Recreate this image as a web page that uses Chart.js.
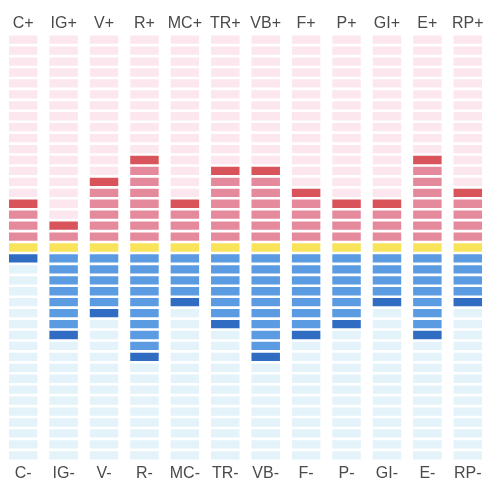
<!DOCTYPE html>
<html>
<head>
<meta charset="utf-8">
<script src="https://cdn.jsdelivr.net/npm/chart.js@4.4.0/dist/chart.umd.min.js"></script>
<style>
  html, body { margin: 0; padding: 0; background: #ffffff; overflow: hidden; }
  #wrap { position: relative; width: 490px; height: 496px; }
</style>
</head>
<body>
<div id="wrap"><canvas id="c"></canvas></div>
<script>
const topLabels = ['C+','IG+','V+','R+','MC+','TR+','VB+','F+','P+','GI+','E+','RP+'];
const bottomLabels = ['C-','IG-','V-','R-','MC-','TR-','VB-','F-','P-','GI-','E-','RP-'];
const plusValues = [4, 2, 6, 8, 4, 7, 7, 5, 4, 4, 8, 5];
const minusValues = [1, 8, 6, 10, 5, 7, 10, 8, 7, 5, 8, 5];
const levels = 19;

const COLORS = {
  pinkBg: '#fde7ee', pink: '#e58a9d', red: '#d9545a',
  yellow: '#f8e35a',
  blueBg: '#e3f3f9', blue: '#5b9be1', darkBlue: '#2f6cc2'
};
const half = 0.38;

function colorFor(k, i) {
  if (k === 0) return COLORS.yellow;
  if (k > 0) {
    const v = plusValues[i];
    if (k < v) return COLORS.pink;
    if (k === v) return COLORS.red;
    return COLORS.pinkBg;
  }
  const m = -k, v = minusValues[i];
  if (m < v) return COLORS.blue;
  if (m === v) return COLORS.darkBlue;
  return COLORS.blueBg;
}

const datasets = [];
for (let k = levels; k >= -levels; k--) {
  datasets.push({
    label: 'L' + k,
    data: bottomLabels.map(() => [k - half, k + half]),
    backgroundColor: bottomLabels.map((_, i) => colorFor(k, i)),
    borderWidth: 0,
    grouped: false,
    barPercentage: 0.705,
    categoryPercentage: 1.0,
    xAxisID: 'x'
  });
}

const font = { family: '"Liberation Sans", Arial, sans-serif', size: 16 };

new Chart(document.getElementById('c'), {
  type: 'bar',
  data: { labels: bottomLabels, datasets },
  options: {
    responsive: true,
    maintainAspectRatio: false,
    animation: false,
    layout: { padding: { top: 13, bottom: 10, left: 3, right: 2 } },
    plugins: { legend: { display: false }, tooltip: { enabled: false } },
    scales: {
      x: {
        type: 'category',
        position: 'bottom',
        grid: { display: false, drawTicks: false },
        border: { display: false },
        ticks: { color: '#4a4a4a', font, padding: 3, maxRotation: 0, autoSkip: false }
      },
      x2: {
        type: 'category',
        position: 'top',
        labels: topLabels,
        grid: { display: false, drawTicks: false },
        border: { display: false },
        ticks: { color: '#4a4a4a', font, padding: 1, maxRotation: 0, autoSkip: false }
      },
      y: {
        min: -levels - 0.5,
        max: levels + 0.5,
        display: false
      }
    }
  }
});
</script>
</body>
</html>
